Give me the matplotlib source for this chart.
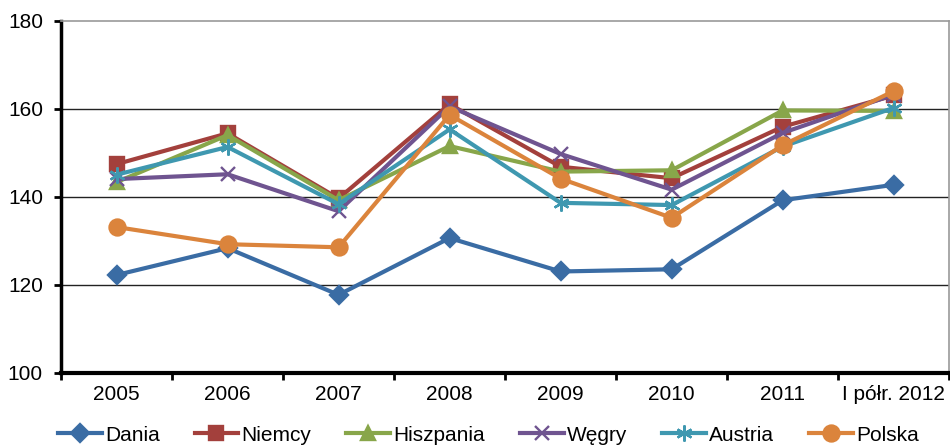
import matplotlib
matplotlib.use("Agg")
import matplotlib.pyplot as plt

plt.rcParams['font.family'] = ['Liberation Sans', 'DejaVu Sans']

years = ['2005', '2006', '2007', '2008', '2009', '2010', '2011', 'I półr. 2012']

dania = [122.2, 128.3, 117.7, 130.6, 123.0, 123.5, 139.2, 142.7]
niemcy = [147.4, 154.4, 139.6, 161.0, 146.8, 144.2, 155.9, 163.0]
hiszpania = [143.3, 154.0, 139.2, 151.5, 145.7, 146.0, 159.6, 159.5]
wegry = [144.0, 145.1, 136.7, 160.5, 149.7, 141.6, 154.5, 163.2]
austria = [145.0, 151.3, 138.3, 155.3, 138.6, 138.1, 151.4, 160.2]
polska = [133.1, 129.2, 128.5, 158.6, 144.1, 135.2, 151.7, 164.0]

series = [
    ('Dania', dania, '#3A6CA4', 'D', 9.5),
    ('Niemcy', niemcy, '#A3403C', 's', 9.5),
    ('Hiszpania', hiszpania, '#88A64A', '^', 10.5),
    ('Węgry', wegry, '#6F5490', 'x', 10.5),
    ('Austria', austria, '#3F98B0', (6, 2, 0), 11.5),
    ('Polska', polska, '#DB843C', 'o', 11.5),
]

fig = plt.figure(figsize=(9.5, 4.45), dpi=100)
ax = fig.add_axes([0.0642, 0.1625, 0.935, 0.791])

x = list(range(len(years)))
for name, vals, col, mk, ms in series:
    ax.plot(x, vals, color=col, lw=3.0, marker=mk, markersize=ms,
            markeredgewidth=1.7, markerfacecolor=col, markeredgecolor=col,
            label=name, solid_joinstyle='miter')

ax.set_xlim(-0.5, 7.5)
ax.set_ylim(100, 180)
ax.set_yticks([100, 120, 140, 160, 180])
ax.set_xticks(x)
ax.set_xticklabels(years)
ax.set_xticks([i - 0.5 for i in range(len(years) + 1)], minor=True)
ax.tick_params(axis='x', which='major', length=0, labelsize=15, pad=9)
ax.tick_params(axis='x', which='minor', length=5, width=2, direction='out')
ax.tick_params(axis='y', length=5, width=2, labelsize=15, pad=8)

for v in [120, 140, 160]:
    ax.axhline(v, color='#222222', lw=1.0, zorder=0)

ax.spines['left'].set_linewidth(2.5)
ax.spines['bottom'].set_linewidth(3)
ax.spines['top'].set_color('#999999')
ax.spines['right'].set_color('#999999')
ax.spines['top'].set_linewidth(1.2)
ax.spines['right'].set_linewidth(1.2)

fig.legend(loc='center left', bbox_to_anchor=(0.061, 0.022), ncol=6, frameon=False,
           fontsize=15, handlelength=2.1, handletextpad=0.15, columnspacing=1.68,
           borderaxespad=0, borderpad=0)

fig.savefig('out.png', dpi=100)
